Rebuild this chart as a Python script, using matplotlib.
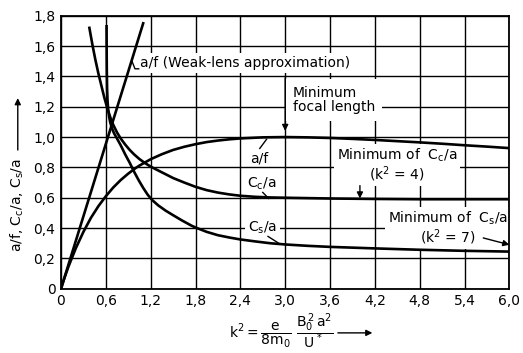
import numpy as np
import matplotlib
matplotlib.use("Agg")
import matplotlib.pyplot as plt

plt.rcParams['font.family'] = ['DejaVu Sans']
plt.rcParams['mathtext.default'] = 'regular'

# values
k2_af = [0, 0.05, 0.1, 0.2, 0.3, 0.4, 0.5, 0.6, 0.7, 0.8, 0.9, 1.0, 1.05, 1.2, 1.35, 1.5,
         1.65, 1.8, 1.95, 2.1, 2.25, 2.4, 2.7, 3.0, 3.3, 3.6, 3.9, 4.2, 4.5, 4.8, 5.1,
         5.4, 5.7, 6.0]
af = [0, 0.076, 0.146, 0.269, 0.375, 0.467, 0.544, 0.61, 0.668, 0.717, 0.759, 0.796,
      0.812, 0.854, 0.887, 0.915, 0.936, 0.953, 0.967, 0.977, 0.985, 0.991, 0.998, 1.0,
      0.998, 0.994, 0.988, 0.981, 0.973, 0.965, 0.956, 0.946, 0.937, 0.927]

k2_weak = [0, 1.1]
af_weak = [0, 1.75]

k2_cc = [0.38, 0.42, 0.46, 0.50, 0.54, 0.58, 0.62, 0.66, 0.70, 0.75, 0.80, 0.86, 0.92,
         0.98, 1.05, 1.12, 1.2, 1.3, 1.4, 1.5, 1.65, 1.8, 1.95, 2.1, 2.25, 2.4, 2.6,
         2.8, 3.0, 3.6, 4.2, 4.8, 5.4, 6.0]
cc = [1.72, 1.61, 1.51, 1.42, 1.34, 1.26, 1.19, 1.13, 1.08, 1.03, 0.99, 0.95, 0.915,
      0.885, 0.855, 0.83, 0.805, 0.78, 0.755, 0.73, 0.70, 0.672, 0.65, 0.634, 0.622,
      0.613, 0.606, 0.602, 0.60, 0.595, 0.592, 0.59, 0.59, 0.59]

k2_cs = [0.61, 0.611, 0.613, 0.617, 0.623, 0.632, 0.645, 0.66, 0.68, 0.71, 0.75, 0.80,
         0.86, 0.92, 0.98, 1.04, 1.10, 1.16, 1.22, 1.3, 1.4, 1.5, 1.62, 1.75, 1.82, 1.95,
         2.1, 2.25, 2.4, 2.6, 2.8, 3.0, 3.3, 3.6, 4.2, 4.8, 5.4, 6.0]
cs = [1.73, 1.6, 1.45, 1.32, 1.24, 1.18, 1.13, 1.095, 1.06, 1.025, 0.99, 0.945,
      0.885, 0.83, 0.77, 0.715, 0.665, 0.62, 0.585, 0.55, 0.515, 0.485, 0.45, 0.415,
      0.40, 0.375, 0.353, 0.338, 0.325, 0.312, 0.30, 0.292, 0.283, 0.276, 0.266, 0.257,
      0.25, 0.245]

xticks = [0, 0.6, 1.2, 1.8, 2.4, 3.0, 3.6, 4.2, 4.8, 5.4, 6.0]
xlabels = ['0', '0,6', '1,2', '1,8', '2,4', '3,0', '3,6', '4,2', '4,8', '5,4', '6,0']
yticks = [0, 0.2, 0.4, 0.6, 0.8, 1.0, 1.2, 1.4, 1.6, 1.8]
ylabels = ['0', '0,2', '0,4', '0,6', '0,8', '1,0', '1,2', '1,4', '1,6', '1,8']

fig = plt.figure(figsize=(5.23, 3.53), dpi=100)
ax = fig.add_axes([0.1166, 0.182, 0.8574, 0.7735])

ax.set_xlim(0, 6.0)
ax.set_ylim(0, 1.8)
ax.set_xticks(xticks, xlabels)
ax.set_yticks(yticks, ylabels)
ax.tick_params(length=0, labelsize=10, pad=4)
ax.grid(True, color='black', lw=1.0, zorder=0)
ax.set_axisbelow(True)
for s in ax.spines.values():
    s.set_linewidth(1.3)

lw = 1.9
ax.plot(k2_af, af, color='black', lw=lw, zorder=3)
ax.plot(k2_weak, af_weak, color='black', lw=lw, zorder=3)
ax.plot(k2_cc, cc, color='black', lw=lw, zorder=3)
ax.plot(k2_cs, cs, color='black', lw=lw, zorder=3)

box = dict(facecolor='white', edgecolor='none', pad=2)
fs = 10
arrow = dict(arrowstyle='-|>', color='black', lw=1.0, mutation_scale=9,
             shrinkA=0, shrinkB=0)

ax.text(1.06, 1.49, 'a/f (Weak-lens approximation)', fontsize=fs, va='center',
        ha='left', bbox=box, zorder=2)
ax.plot([0.95, 0.99, 1.04], [1.50, 1.45, 1.45], color='black', lw=1.0, zorder=3)

ax.text(3.1, 1.245, 'Minimum\nfocal length', fontsize=fs, va='center', ha='left',
        linespacing=1.0, bbox=dict(facecolor='white', edgecolor='none', pad=5), zorder=2)
ax.annotate('', xy=(3.0, 1.04), xytext=(3.0, 1.39), arrowprops=arrow, zorder=3)

ax.text(2.53, 0.86, 'a/f', fontsize=fs, va='center', ha='left', zorder=2)
ax.plot([2.66, 2.75], [0.925, 0.985], color='black', lw=1.0, zorder=3)

ax.text(2.49, 0.69, '$C_c$/a', fontsize=fs, va='center', ha='left', zorder=2)
ax.plot([2.7, 2.78], [0.635, 0.595], color='black', lw=1.0, zorder=3)

ax.text(2.5, 0.40, '$C_s$/a', fontsize=fs, va='center', ha='left', bbox=box, zorder=2)
ax.plot([2.77, 2.93], [0.345, 0.295], color='black', lw=1.0, zorder=3)

ax.text(4.5, 0.815, 'Minimum of  $C_c$/a\n($k^2$ = 4)', fontsize=fs, va='center',
        ha='center', linespacing=1.0, bbox=box, zorder=2)
ax.annotate('', xy=(4.0, 0.595), xytext=(4.0, 0.68), arrowprops=arrow, zorder=3)

ax.text(5.18, 0.40, 'Minimum of  $C_s$/a\n($k^2$ = 7)', fontsize=fs, va='center',
        ha='center', linespacing=1.0, bbox=box, zorder=2, clip_on=False)
ax.annotate('', xy=(6.0, 0.29), xytext=(5.65, 0.335), arrowprops=arrow, zorder=3)

# axis titles with arrows
fig.text(0.034, 0.419, 'a/f, $C_c$/a, $C_s$/a', rotation=90, fontsize=fs,
         ha='center', va='center')
ax.annotate('', xy=(0.034, 0.722), xytext=(0.034, 0.575), xycoords='figure fraction',
            textcoords='figure fraction', arrowprops=arrow)

fig.text(0.537, 0.062, r'$k^2 = \dfrac{e}{8m_0}\ \dfrac{B_0^{\,2}\,a^2}{U^{\,*}}$',
         fontsize=10, ha='center', va='center')
ax.annotate('', xy=(0.712, 0.057), xytext=(0.646, 0.057), xycoords='figure fraction',
            textcoords='figure fraction', arrowprops=arrow)

fig.savefig('out.png', dpi=100)
